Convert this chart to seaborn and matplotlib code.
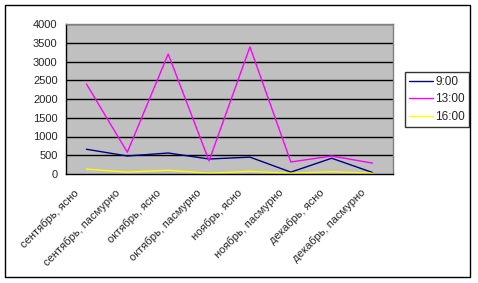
import matplotlib
matplotlib.use("Agg")
import matplotlib.pyplot as plt
import matplotlib.transforms as mtransforms
import seaborn as sns
import pandas as pd
import numpy as np
from matplotlib.patches import Rectangle
from matplotlib.lines import Line2D

categories = ["сентябрь, ясно", "сентябрь, пасмурно", "октябрь, ясно", "октябрь, пасмурно",
              "ноябрь, ясно", "ноябрь, пасмурно", "декабрь, ясно", "декабрь, пасмурно"]
s_900 = [660, 480, 560, 400, 450, 50, 420, 40]
s_1300 = [2400, 580, 3200, 350, 3390, 320, 480, 290]
s_1600 = [130, 50, 100, 20, 70, 20, 60, 20]
series_names = ["9:00", "13:00", "16:00"]
colors = ["#000080", "#FF00FF", "#FFFF00"]
yticks = [0, 500, 1000, 1500, 2000, 2500, 3000, 3500, 4000]

rows = []
for name, vals in zip(series_names, [s_900, s_1300, s_1600]):
    for c, v in zip(categories, vals):
        rows.append({"cat": c, "val": v, "series": name})
df = pd.DataFrame(rows)
df["x"] = df["cat"].map({c: i for i, c in enumerate(categories)})

sns.set_style("white")
plt.rcParams["font.family"] = ["Liberation Sans", "DejaVu Sans"]
plt.rcParams["font.size"] = 8

W, H = 478, 283
DPI = 100
fig = plt.figure(figsize=(W / DPI, H / DPI), dpi=DPI)
ax = fig.add_axes([66 / W, 1 - 174 / H, (393 - 66) / W, (174 - 24) / H])
ax.set_facecolor("#C0C0C0")

sns.lineplot(data=df, x="x", y="val", hue="series", palette=colors,
             hue_order=series_names, ax=ax, linewidth=1, legend=False,
             estimator=None, sort=False)

ax.set_xlim(-0.5, len(categories) - 0.5)
ax.set_ylim(0, 4000)
ax.set_yticks(yticks)
ax.set_yticklabels([str(t) for t in yticks], fontsize=8)
for t in yticks[1:]:
    ax.axhline(t, color="black", linewidth=1, zorder=0.5)

ax.set_xticks(range(len(categories)))
ax.set_xticklabels(categories, rotation=45, ha="right", va="center",
                   rotation_mode="anchor", fontsize=8)
ax.tick_params(axis="x", which="major", length=0, pad=0)
off = mtransforms.ScaledTranslation(-9 / DPI, -17 / DPI, fig.dpi_scale_trans)
for lbl in ax.get_xticklabels():
    lbl.set_transform(lbl.get_transform() + off)
ax.set_xticks(np.arange(0.5, len(categories), 1), minor=True)
ax.tick_params(axis="x", which="minor", length=4, direction="out", color="black", width=1)
ax.tick_params(axis="y", length=4, direction="out", color="black", width=1, pad=2)
ax.set_xlabel("")
ax.set_ylabel("")

for side in ["top", "right"]:
    ax.spines[side].set_color("#808080")
    ax.spines[side].set_linewidth(1)
for side in ["left", "bottom"]:
    ax.spines[side].set_color("black")
    ax.spines[side].set_linewidth(1)

handles = [Line2D([0], [0], color=c, lw=1) for c in colors]
leg = fig.legend(handles, series_names, loc="upper left",
                 bbox_to_anchor=(405 / W, 1 - 72 / H), frameon=True, fancybox=False,
                 handlelength=2.0, handletextpad=0.2, borderpad=0.35, labelspacing=0.45,
                 fontsize=8.5, borderaxespad=0)
leg.get_frame().set_edgecolor("black")
leg.get_frame().set_linewidth(1)

fig.patches.append(Rectangle((5 / W, 1 - 277 / H), (470 - 5) / W, (277 - 5) / H,
                             transform=fig.transFigure, fill=False, edgecolor="black",
                             linewidth=1))

fig.savefig("out.png", dpi=DPI, facecolor="white")
